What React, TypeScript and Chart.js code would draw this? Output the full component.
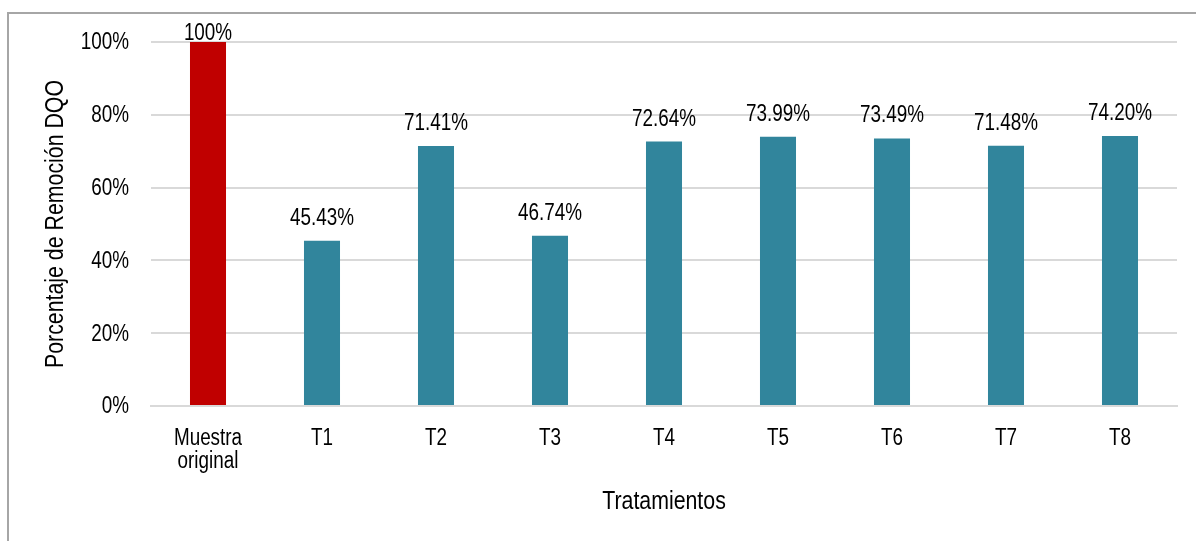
import React, { useEffect, useRef } from "react";
import { Chart, registerables } from "chart.js";

Chart.register(...registerables);

const categories: string[][] = [["Muestra", "original"], ["T1"], ["T2"], ["T3"], ["T4"], ["T5"], ["T6"], ["T7"], ["T8"]];
const removalValues: number[] = [100, 45.43, 71.41, 46.74, 72.64, 73.99, 73.49, 71.48, 74.2];
const valueLabels: string[] = ["100%", "45.43%", "71.41%", "46.74%", "72.64%", "73.99%", "73.49%", "71.48%", "74.20%"];
const barColors: string[] = ["#C00000", "#31859C", "#31859C", "#31859C", "#31859C", "#31859C", "#31859C", "#31859C", "#31859C"];
const yTicks: number[] = [0, 20, 40, 60, 80, 100];
const yTickLabels: string[] = ["0%", "20%", "40%", "60%", "80%", "100%"];
const xTitle = "Tratamientos";
const yTitle = "Porcentaje de Remoción DQO";

const FONT = '"Liberation Sans", Arial, sans-serif';
const FS = 23;
const TITLE_FS = 26;
const SX = 0.82; // horizontal condensing to mimic a narrow typeface

function narrowText(ctx: CanvasRenderingContext2D, text: string, x: number, y: number) {
  ctx.save();
  ctx.translate(x, y);
  ctx.scale(SX, 1);
  ctx.fillText(text, 0, 0);
  ctx.restore();
}

const textPlugin = {
  id: "narrowText",
  afterDraw(chart: any) {
    const ctx: CanvasRenderingContext2D = chart.ctx;
    const { x: xs, y: ys } = chart.scales;
    const area = chart.chartArea;
    ctx.save();
    ctx.font = `${FS}px ${FONT}`;
    ctx.fillStyle = "#000000";

    // value labels
    ctx.textAlign = "center";
    ctx.textBaseline = "alphabetic";
    chart.getDatasetMeta(0).data.forEach((el: any, i: number) => {
      const y = Math.max(el.y - 16, area.top - 2);
      narrowText(ctx, valueLabels[i], el.x, y);
    });

    // y tick labels
    ctx.textAlign = "right";
    ctx.textBaseline = "middle";
    yTicks.forEach((v, i) => {
      narrowText(ctx, yTickLabels[i], area.left - 22, ys.getPixelForValue(v) + 1);
    });

    // x tick labels
    ctx.textAlign = "center";
    ctx.textBaseline = "alphabetic";
    categories.forEach((lines, i) => {
      const cx = xs.getPixelForValue(i);
      lines.forEach((line, j) => {
        narrowText(ctx, line, cx, area.bottom + 39 + j * 23);
      });
    });

    // axis titles
    ctx.font = `${TITLE_FS}px ${FONT}`;
    narrowText(ctx, xTitle, (area.left + area.right) / 2, area.bottom + 103);
    ctx.save();
    ctx.translate(63, (area.top + area.bottom) / 2);
    ctx.rotate(-Math.PI / 2);
    ctx.scale(SX, 1);
    ctx.textAlign = "center";
    ctx.textBaseline = "alphabetic";
    ctx.fillText(yTitle, 0, 0);
    ctx.restore();

    ctx.restore();
  },
};

export default function App() {
  const ref = useRef<HTMLCanvasElement>(null);
  useEffect(() => {
    document.body.style.margin = "0";
    const chart = new Chart(ref.current!, {
      type: "bar",
      data: {
        labels: categories.map((c) => c.join(" ")),
        datasets: [
          {
            data: removalValues,
            backgroundColor: barColors,
            borderWidth: 0,
            barPercentage: 0.316,
            categoryPercentage: 1,
          },
        ],
      },
      plugins: [textPlugin],
      options: {
        animation: false,
        responsive: false,
        maintainAspectRatio: false,
        layout: { padding: { top: 42, right: 19, left: 0, bottom: 0 } },
        plugins: { legend: { display: false }, tooltip: { enabled: false } },
        scales: {
          x: {
            grid: { display: false, drawTicks: false },
            border: { display: true, color: "#d9d9d9", width: 2 },
            ticks: { display: false },
            afterFit: (s: any) => { s.height = 135; },
          },
          y: {
            min: 0,
            max: 100,
            afterBuildTicks: (s: any) => { s.ticks = yTicks.map((v) => ({ value: v })); },
            grid: { color: "#d9d9d9", lineWidth: 2, drawTicks: false },
            border: { display: false },
            ticks: { display: false },
            afterFit: (s: any) => { s.width = 151; },
          },
        },
      },
    });
    return () => chart.destroy();
  }, []);
  return (
    <div style={{ position: "fixed", left: 0, top: 0, width: 1196, height: 541, overflow: "hidden", background: "#fff" }}>
      <canvas ref={ref} width={1196} height={541} style={{ position: "absolute", left: 0, top: 0 }} />
      <div style={{ position: "absolute", left: 7, top: 12, width: 1400, height: 800, borderLeft: "2px solid #a6a6a6", borderTop: "2px solid #a6a6a6", pointerEvents: "none" }} />
    </div>
  );
}
